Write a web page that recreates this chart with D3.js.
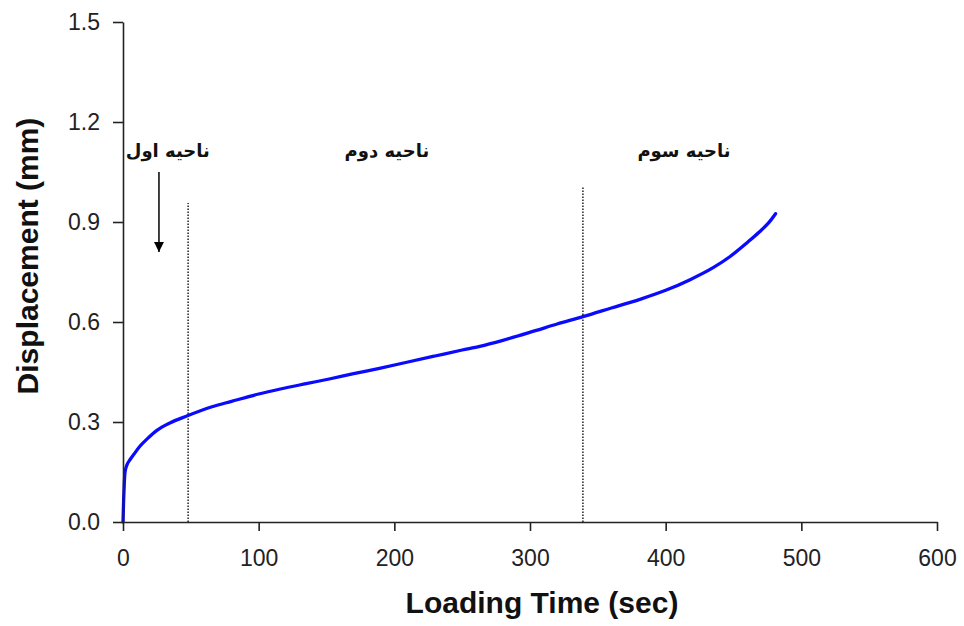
<!DOCTYPE html>
<html>
<head>
<meta charset="utf-8">
<script src="https://cdn.jsdelivr.net/npm/d3@7"></script>
<style>
	body { margin: 0; background: #fff; }
	svg text { font-family: "Liberation Sans", Arial, sans-serif; }
	.fa { font-family: "DejaVu Sans", sans-serif; font-weight: bold; }
</style>
</head>
<body>
<svg id="chart" width="964" height="626"></svg>
<script>
// loading time (sec) and displacement (mm)
var times = [0, 0.5, 1, 1.5, 3, 5, 8, 12, 18, 25, 35, 47, 65, 80, 100, 116, 135, 152, 170, 189, 210, 230, 250, 263, 280, 304, 320, 339, 360, 381, 400, 418, 435, 447, 460, 469, 476, 481];
var displacement = [0, 0.07, 0.12, 0.15, 0.172, 0.186, 0.203, 0.225, 0.25, 0.275, 0.298, 0.318, 0.345, 0.362, 0.384, 0.399, 0.415, 0.429, 0.445, 0.461, 0.48, 0.498, 0.516, 0.527, 0.545, 0.574, 0.594, 0.616, 0.642, 0.668, 0.695, 0.727, 0.763, 0.795, 0.838, 0.87, 0.898, 0.925];

var xTicks = [0, 100, 200, 300, 400, 500, 600];
var yTicks = [0, 0.3, 0.6, 0.9, 1.2, 1.5];

// region boundaries (dotted lines) and their top ends
var boundaryTimes = [48, 339];
var boundaryTops = [0.957, 1.008];

// region labels
var regionNames = ['ناحیه اول', 'ناحیه دوم', 'ناحیه سوم'];
var regionTimes = [33, 194.5, 413.5];
var regionLevel = 1.095;

// arrow under first label
var arrowTime = 26.5;
var arrowFrom = 1.05;
var arrowTo = 0.81;

var width = 964, height = 626;
var margin = {top: 22, right: 27, bottom: 104, left: 123};

var svg = d3.select('#chart');

var x = d3.scaleLinear().domain([0, 600]).range([margin.left, width - margin.right]);
var y = d3.scaleLinear().domain([0, 1.5]).range([height - margin.bottom, margin.top]);

svg.append('defs').append('marker')
	.attr('id', 'arrowhead')
	.attr('viewBox', '0 0 10 10')
	.attr('refX', 10)
	.attr('refY', 5)
	.attr('markerWidth', 10)
	.attr('markerHeight', 10)
	.attr('markerUnits', 'userSpaceOnUse')
	.attr('orient', 'auto')
	.append('path')
	.attr('d', 'M0,0 L10,5 L0,10 z')
	.attr('fill', '#000');

// boundaries
svg.selectAll('line.boundary')
	.data(boundaryTimes)
	.enter()
	.append('line')
	.attr('class', 'boundary')
	.attr('x1', function(d) { return x(d); })
	.attr('x2', function(d) { return x(d); })
	.attr('y1', y(0))
	.attr('y2', function(d, i) { return y(boundaryTops[i]); })
	.attr('stroke', '#222')
	.attr('stroke-width', 1.5)
	.attr('stroke-dasharray', '1.5,1.5');

// the curve
var line = d3.line()
	.x(function(d, i) { return x(times[i]); })
	.y(function(d) { return y(d); })
	.curve(d3.curveMonotoneX);

svg.append('path')
	.datum(displacement)
	.attr('d', line)
	.attr('fill', 'none')
	.attr('stroke', '#0a0aff')
	.attr('stroke-width', 3.3)
	.attr('stroke-linecap', 'round');

// axes
var xAxis = svg.append('g')
	.attr('transform', 'translate(0,' + y(0) + ')')
	.call(d3.axisBottom(x).tickValues(xTicks).tickSize(9).tickSizeOuter(0).tickPadding(19));

var yAxis = svg.append('g')
	.attr('transform', 'translate(' + x(0) + ',0)')
	.call(d3.axisLeft(y).tickValues(yTicks).tickSize(10).tickSizeOuter(0).tickPadding(13).tickFormat(d3.format('.1f')));

[xAxis, yAxis].forEach(function(g) {
	g.selectAll('path, line').attr('stroke', '#222').attr('stroke-width', 1.6);
	g.selectAll('text').attr('font-size', 23).attr('fill', '#222')
		.style('font-family', '"Liberation Sans", Arial, sans-serif');
});

// axis titles
svg.append('text')
	.attr('x', 542)
	.attr('y', 613)
	.attr('text-anchor', 'middle')
	.attr('font-size', 30)
	.attr('font-weight', 'bold')
	.attr('fill', '#111')
	.text('Loading Time (sec)');

svg.append('text')
	.attr('transform', 'translate(38,' + 256 + ') rotate(-90)')
	.attr('text-anchor', 'middle')
	.attr('font-size', 30)
	.attr('font-weight', 'bold')
	.attr('fill', '#111')
	.text('Displacement (mm)');

// region labels
svg.selectAll('text.fa')
	.data(regionNames)
	.enter()
	.append('text')
	.attr('class', 'fa')
	.attr('x', function(d, i) { return x(regionTimes[i]); })
	.attr('y', y(regionLevel))
	.attr('text-anchor', 'middle')
	.attr('direction', 'rtl')
	.attr('font-size', 18)
	.attr('fill', '#111')
	.text(function(d) { return d; });

svg.append('line')
	.attr('x1', x(arrowTime))
	.attr('x2', x(arrowTime))
	.attr('y1', y(arrowFrom))
	.attr('y2', y(arrowTo))
	.attr('stroke', '#111')
	.attr('stroke-width', 1.6)
	.attr('marker-end', 'url(#arrowhead)');
</script>
</body>
</html>
